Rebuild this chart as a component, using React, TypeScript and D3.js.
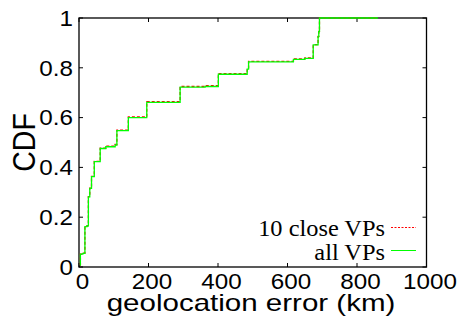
import React from 'react';
import * as d3 from 'd3';

// step CDF of geolocation error (km)
const allErr = [3, 4, 11, 17, 23, 27, 31, 36, 44, 61, 77, 104, 109, 142, 195, 291, 363, 401, 484, 488, 617, 650, 674, 688, 690, 692, 860];
const allCdf = [0.008, 0.052, 0.055, 0.162, 0.165, 0.282, 0.316, 0.363, 0.423, 0.476, 0.483, 0.49, 0.548, 0.6, 0.661, 0.722, 0.725, 0.774, 0.795, 0.824, 0.834, 0.838, 0.892, 0.925, 0.945, 1, 1];

const closeErr = [3, 4, 11, 17, 23, 27, 31, 36, 44, 61, 77, 104, 109, 142, 195, 291, 363, 401, 484, 488, 617, 650, 674, 688, 690, 692, 860];
const closeCdf = [0.008, 0.052, 0.056, 0.163, 0.166, 0.283, 0.317, 0.364, 0.424, 0.477, 0.485, 0.492, 0.55, 0.603, 0.664, 0.725, 0.728, 0.777, 0.797, 0.826, 0.836, 0.84, 0.893, 0.926, 0.946, 1, 1];

const xTicks = [0, 200, 400, 600, 800, 1000];
const yTicks = [0, 0.2, 0.4, 0.6, 0.8, 1];
const seriesNames = ['10 close VPs', 'all VPs'];

const W = 458;
const H = 316;
const left = 79;
const right = 426.5;
const top = 18;
const bottom = 267;

export default function App() {
  const x = d3.scaleLinear().domain([0, 1000]).range([left, right]);
  const y = d3.scaleLinear().domain([0, 1]).range([bottom, top]);

  const line = d3.line<[number, number]>()
    .x(d => x(d[0]))
    .y(d => y(d[1]))
    .curve(d3.curveStepAfter);

  const closePts = closeErr.map((e, i) => [e, closeCdf[i]] as [number, number]);
  const allPts = allErr.map((e, i) => [e, allCdf[i]] as [number, number]);

  const sans = 'Liberation Sans, Arial, sans-serif';
  const serif = 'Liberation Serif, Times New Roman, serif';

  return (
    <svg width={W} height={H} style={{ position: 'absolute', left: 0, top: 0, background: '#fff' }}>
      {/* frame */}
      <rect x={left} y={top} width={right - left} height={bottom - top} fill="none" stroke="#000" strokeWidth={1.3} />

      {/* ticks, mirrored inside on all four sides */}
      {xTicks.map(t => (
        <g key={'xt' + t}>
          <line x1={x(t)} x2={x(t)} y1={bottom} y2={bottom - 4} stroke="#000" strokeWidth={1} />
          <line x1={x(t)} x2={x(t)} y1={top} y2={top + 4} stroke="#000" strokeWidth={1} />
          <text
            transform={`translate(${x(t) + 3.5},289) scale(1.1,1)`}
            textAnchor="middle"
            fontFamily={sans}
            fontSize={22}
          >{t}</text>
        </g>
      ))}
      {yTicks.map(t => (
        <g key={'yt' + t}>
          <line x1={left} x2={left + 4} y1={y(t)} y2={y(t)} stroke="#000" strokeWidth={1} />
          <line x1={right} x2={right - 4} y1={y(t)} y2={y(t)} stroke="#000" strokeWidth={1} />
          <text
            transform={`translate(73,${y(t) + 7.8}) scale(1.1,1)`}
            textAnchor="end"
            fontFamily={sans}
            fontSize={22}
          >{d3.format('~g')(t)}</text>
        </g>
      ))}

      {/* axis titles */}
      <text
        transform={`translate(251,310.5) scale(1.23,1)`}
        textAnchor="middle"
        fontFamily={sans}
        fontSize={24}
      >geolocation error (km)</text>
      <text
        transform={`translate(35,142.5) scale(1.08,1) rotate(-90)`}
        textAnchor="middle"
        fontFamily={sans}
        fontSize={28.5}
      >CDF</text>

      {/* curves */}
      <path d={line(closePts) ?? ''} fill="none" stroke="#ff0000" strokeWidth={1.3} strokeDasharray="3,2" />
      <path d={line(allPts) ?? ''} fill="none" stroke="#00ff00" strokeWidth={1.3} />

      {/* legend */}
      {seriesNames.map((name, i) => (
        <g key={name}>
          <text
            transform={`translate(385,${235.5 + i * 24}) scale(1.06,1)`}
            textAnchor="end"
            fontFamily={serif}
            fontSize={23}
          >{name}</text>
          <line
            x1={391}
            x2={416}
            y1={227.5 + i * 23}
            y2={227.5 + i * 23}
            stroke={i === 0 ? '#ff0000' : '#00ff00'}
            strokeWidth={1}
            strokeDasharray={i === 0 ? '2,1.5' : undefined}
          />
        </g>
      ))}
    </svg>
  );
}
